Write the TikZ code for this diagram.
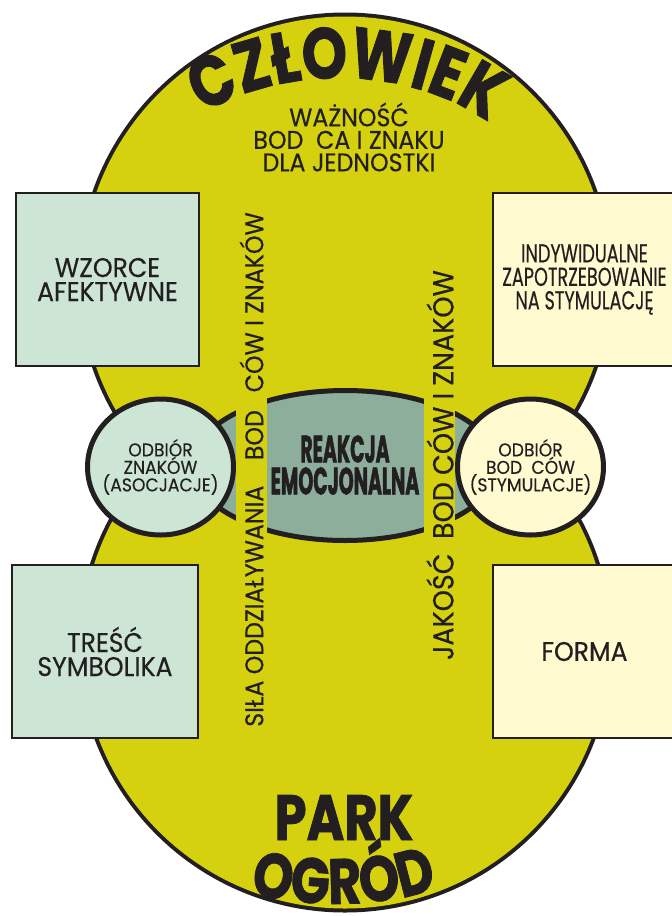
\documentclass[tikz,border=0pt]{standalone}
\usepackage{fontspec}
\setmainfont{Poppins}
\newfontfamily\gothic[FakeStretch=0.93,FakeBold=0.35]{Poppins}
\newfontfamily\gothicnarrow[FakeStretch=0.68,FakeBold=0.35]{Poppins}
\newfontfamily\funky[FakeStretch=0.8,BoldFeatures={FakeBold=1.2}]{Poppins}
\newfontfamily\funkynarrow[FakeStretch=0.5,BoldFeatures={FakeBold=1.2}]{Poppins}
\usetikzlibrary{shapes.geometric,decorations.text,positioning}
\definecolor{ink}{RGB}{35,31,32}
\definecolor{parkgreen}{RGB}{213,209,14}
\definecolor{mint}{RGB}{204,229,213}
\definecolor{cream}{RGB}{255,250,208}
\definecolor{sage}{RGB}{140,174,155}

\begin{document}
\begin{tikzpicture}[x=1pt,y=-1pt]
\tikzstyle{mintbox} = [rectangle, draw=ink, line width=1.2pt, fill=mint,
minimum width=183pt, minimum height=173pt, inner sep=0pt, align=center,
font=\gothic\fontsize{27}{24}\selectfont, text=ink]
\tikzstyle{creambox} = [mintbox, fill=cream, font=\gothicnarrow\fontsize{26}{23.5}\selectfont]
\tikzstyle{receiver} = [ellipse, draw=ink, line width=5pt,
minimum width=146pt, minimum height=136pt, inner sep=0pt]
\tikzstyle{recvtext} = [align=center, inner sep=0pt, text=ink,
font=\gothic\fontsize{18.5}{17.5}\selectfont]
\tikzstyle{column} = [rotate=90, inner sep=0pt, text=ink,
font=\gothic\fontsize{25.5}{25}\selectfont]
\tikzstyle{bigword} = [decorate, decoration={text along path, text align=center, text color=ink}]
\useasboundingbox (0,0) rectangle (672,916);

% the two halves of the park
\draw[ink, line width=8pt] (345,280) circle (263.5pt) (345,645) circle (263.5pt);
\fill[parkgreen] (345,280) circle (263.5pt) (345,645) circle (263.5pt);

% emotional reaction in the middle
\draw[ink, line width=5pt, fill=sage] (345,465.5) ellipse [x radius=152.5pt, y radius=75pt];
\fill[parkgreen] (236,380) rectangle (266.5,555);
\fill[parkgreen] (423.5,380) rectangle (455,555);
\node[align=center, inner sep=0pt, text=ink,
  font=\funkynarrow\bfseries\fontsize{38}{32}\selectfont] (reakcja) at (345,465) {REAKCJA\\EMOCJONALNA};

% boxes
\node[mintbox] (wzorce) at (107.5,279.5) {WZORCE\\AFEKTYWNE};
\node[mintbox, minimum width=186pt] (tresc) at (105,651.5) {TREŚĆ\\SYMBOLIKA};
\node[creambox] (potrzeba) at (584.5,279.5) {INDYWIDUALNE\\ZAPOTRZEBOWANIE\\NA STYMULACJĘ};
\node[creambox, font=\gothic\fontsize{27}{24}\selectfont] (forma) at (584.5,651.5) {FORMA};

% receivers
\node[receiver, fill=mint] (znaki) at (160.5,467) {};
\node[recvtext] (znakitxt) at (znaki.center) {ODBIÓR\\ZNAKÓW\\(ASOCJACJE)};
\node[receiver, fill=cream] (bodzce) at (530.5,467) {};
\node[recvtext] (bodzcetxt) at (bodzce.center) {ODBIÓR\\BOD\hspace{0.5em}CÓW\\(STYMULACJE)};

% columns
\node[column] (sila) at (251.5,469.5) {SIŁA ODDZIAŁYWANIA\hspace{1em}BOD\hspace{0.7em}CÓW I ZNAKÓW};
\node[column, font=\gothic\fontsize{29}{29}\selectfont] (jakosc) at (440,465) {JAKOŚĆ\hspace{0.5em}BOD CÓW I ZNAKÓW};

% top text
\node[align=center, inner sep=0pt, text=ink,
  font=\gothic\fontsize{25.5}{22.5}\selectfont] (waznosc) at (349,137) {WAŻNOŚĆ\\BOD\hspace{0.5em}CA I ZNAKU\\DLA JEDNOSTKI};

% titles
\path[bigword, decoration={text={|\funky\bfseries\fontsize{72}{72}\selectfont|CZŁOWIEK}}]
  (183,128) .. controls (265,60) and (425,60) .. (507,138);
\node[anchor=base, inner sep=0pt, text=ink,
  font=\funky\bfseries\fontsize{64}{64}\selectfont] (park) at (344,840) {PARK};
\path[bigword, decoration={text={|\funky\bfseries\fontsize{64}{64}\selectfont|OGRÓD}}]
  (230,889) .. controls (300,910) and (390,910) .. (457,881);
\end{tikzpicture}
\end{document}
